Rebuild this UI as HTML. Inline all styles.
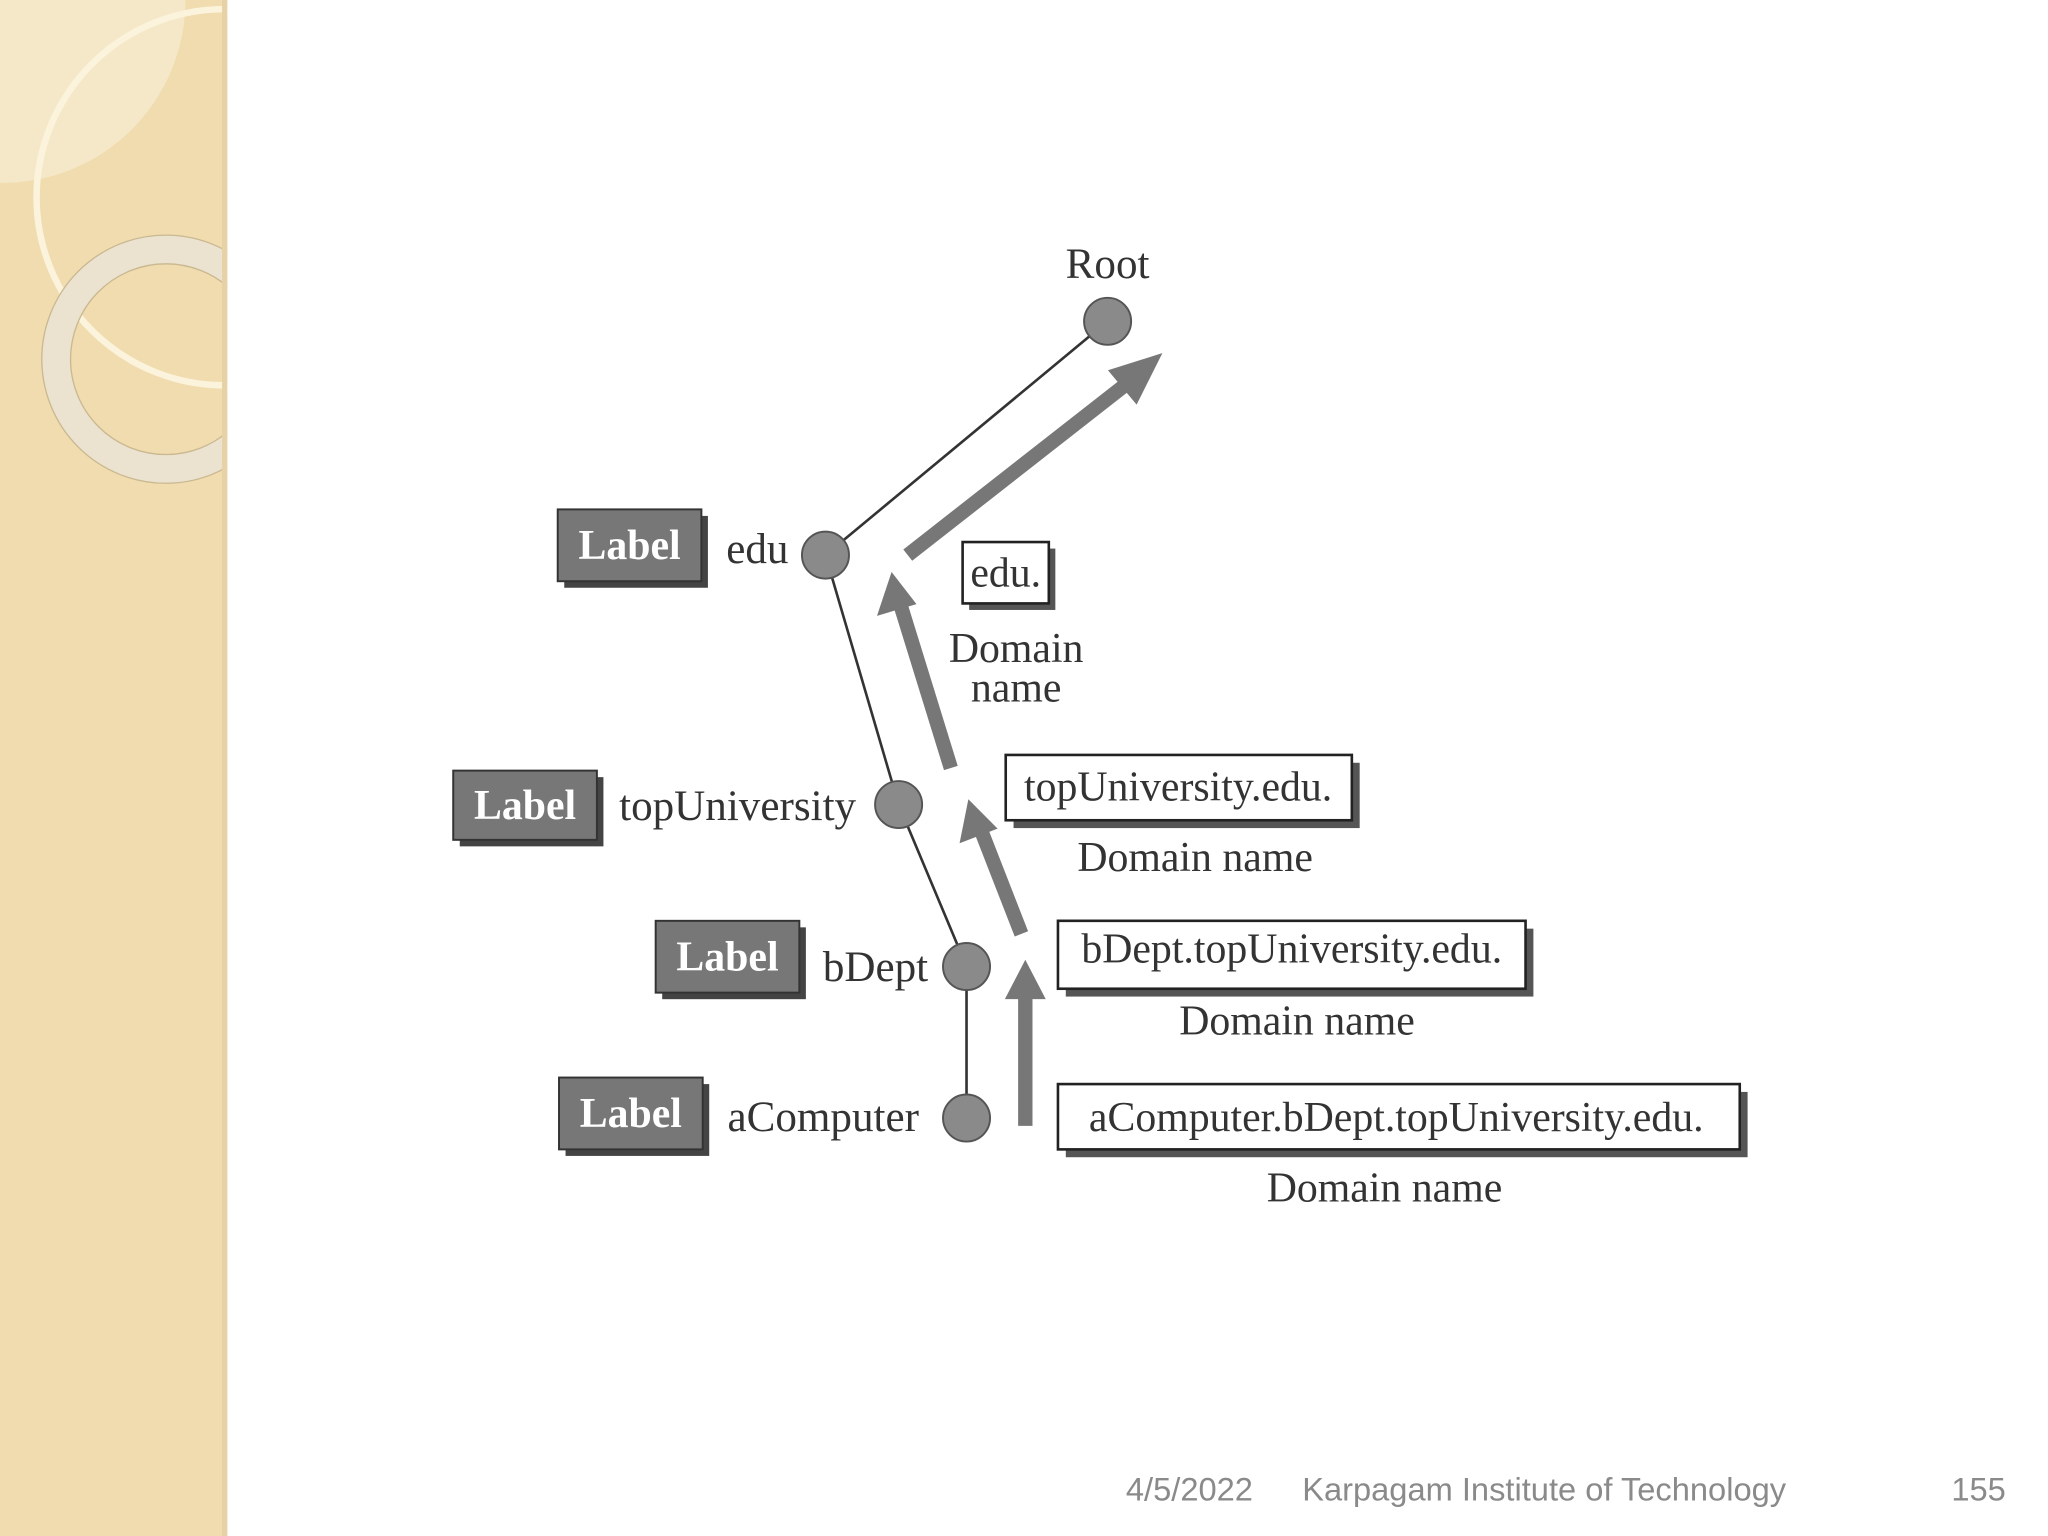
<!DOCTYPE html>
<html><head><meta charset="utf-8"><style>
html,body{margin:0;padding:0;background:#fff;}
svg{display:block;}
</style></head><body>
<svg width="2048" height="1536" viewBox="0 0 1568 1176" xmlns="http://www.w3.org/2000/svg">
<defs><clipPath id="sb"><rect x="0" y="0" width="174" height="1176"/></clipPath></defs>
<rect x="0" y="0" width="174" height="1176" fill="#f0dcae"/>
<g clip-path="url(#sb)">
<path d="M0 0 H142 A140 140 0 0 1 0 140 Z" fill="#f5e8c8"/>
<circle cx="172" cy="151" r="144" fill="none" stroke="#fbf3dc" stroke-width="5"/>
<circle cx="127" cy="275" r="84" fill="none" stroke="#ebe3d0" stroke-width="22"/>
<circle cx="127" cy="275" r="95" fill="none" stroke="#c9b890" stroke-width="1"/>
<circle cx="127" cy="275" r="73" fill="none" stroke="#c9b890" stroke-width="1"/>
</g>
<rect x="170" y="0" width="4" height="1176" fill="#e6d2a4"/>

<g stroke="#333" stroke-width="2" fill="none">
<line x1="632" y1="425" x2="848" y2="246"/>
<line x1="632" y1="425" x2="688" y2="616"/>
<line x1="688" y1="616" x2="740" y2="740"/>
<line x1="740" y1="740" x2="740" y2="856"/>
</g>
<g fill="#8a8a8a" stroke="#555" stroke-width="1.5">
<circle cx="848" cy="246" r="18"/>
<circle cx="632" cy="425" r="18"/>
<circle cx="688" cy="616" r="18"/>
<circle cx="740" cy="740" r="18"/>
<circle cx="740" cy="856" r="18"/>
</g>

<g stroke="#777" stroke-width="11" fill="#777">
<line x1="695" y1="425" x2="865" y2="292"/>
<polygon points="888,272 850,284 870,308" stroke-width="2"/>
<line x1="728" y1="588" x2="690" y2="465"/>
<polygon points="683,440 673,470 700,462" stroke-width="2"/>
<line x1="782" y1="715" x2="752" y2="638"/>
<polygon points="742,614 736,644 762,634" stroke-width="2"/>
<line x1="785" y1="862" x2="785" y2="762"/>
<polygon points="785,737 771,764 799,764" stroke-width="2"/>
</g>

<g font-family="'Liberation Serif',serif" font-weight="bold" font-size="32" fill="#fff">
<rect x="432" y="395" width="110" height="55" fill="#444"/>
<rect x="427" y="390" width="110" height="55" fill="#777" stroke="#333" stroke-width="1.5"/>
<text x="482" y="428" text-anchor="middle">Label</text>
<rect x="352" y="595" width="110" height="53" fill="#444"/>
<rect x="347" y="590" width="110" height="53" fill="#777" stroke="#333" stroke-width="1.5"/>
<text x="402" y="627" text-anchor="middle">Label</text>
<rect x="507" y="710" width="110" height="55" fill="#444"/>
<rect x="502" y="705" width="110" height="55" fill="#777" stroke="#333" stroke-width="1.5"/>
<text x="557" y="743" text-anchor="middle">Label</text>
<rect x="433" y="830" width="110" height="55" fill="#444"/>
<rect x="428" y="825" width="110" height="55" fill="#777" stroke="#333" stroke-width="1.5"/>
<text x="483" y="863" text-anchor="middle">Label</text>
</g>

<g font-family="'Liberation Serif',serif" font-size="33" fill="#333">
<text x="848" y="213" text-anchor="middle">Root</text>
<text x="556" y="431">edu</text>
<text x="474" y="628">topUniversity</text>
<text x="630" y="751">bDept</text>
<text x="557" y="866">aComputer</text>
</g>

<g font-family="'Liberation Serif',serif" font-size="32" fill="#333">
<rect x="742" y="420" width="66" height="47" fill="#555"/>
<rect x="737" y="415" width="66" height="47" fill="#fff" stroke="#222" stroke-width="2"/>
<text x="770" y="449" text-anchor="middle">edu.</text>
<text x="778" y="507" text-anchor="middle">Domain</text>
<text x="778" y="537" text-anchor="middle">name</text>
<rect x="776" y="584" width="265" height="50" fill="#555"/>
<rect x="770" y="578" width="265" height="50" fill="#fff" stroke="#222" stroke-width="2"/>
<text x="902" y="613" text-anchor="middle">topUniversity.edu.</text>
<text x="915" y="667" text-anchor="middle">Domain name</text>
<rect x="816" y="711" width="358" height="52" fill="#555"/>
<rect x="810" y="705" width="358" height="52" fill="#fff" stroke="#222" stroke-width="2"/>
<text x="989" y="737" text-anchor="middle">bDept.topUniversity.edu.</text>
<text x="993" y="792" text-anchor="middle">Domain name</text>
<rect x="816" y="836" width="522" height="50" fill="#555"/>
<rect x="810" y="830" width="522" height="50" fill="#fff" stroke="#222" stroke-width="2"/>
<text x="1069" y="866" text-anchor="middle">aComputer.bDept.topUniversity.edu.</text>
<text x="1060" y="920" text-anchor="middle">Domain name</text>
</g>

<g font-family="'Liberation Sans',sans-serif" font-size="25" fill="#8a8a8a">
<text x="862" y="1149">4/5/2022</text>
<text x="997" y="1149">Karpagam Institute of Technology</text>
<text x="1494" y="1149">155</text>
</g>
</svg>
</body></html>
